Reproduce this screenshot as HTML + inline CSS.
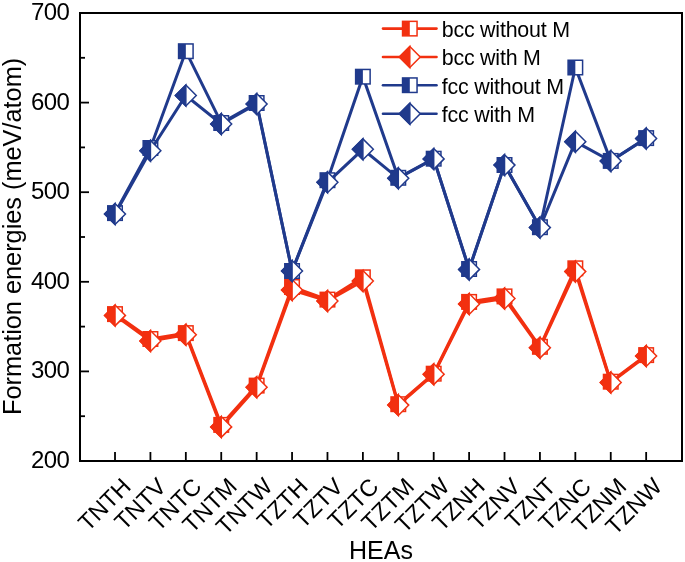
<!DOCTYPE html>
<html><head><meta charset="utf-8"><style>
html,body{margin:0;padding:0;background:#fff;}
svg{display:block;font-family:"Liberation Sans",sans-serif;will-change:transform;}
</style></head><body>
<svg width="685" height="562" viewBox="0 0 685 562">
<rect width="685" height="562" fill="#fff"/>
<rect x="80" y="13" width="602" height="448" fill="none" stroke="#000" stroke-width="2"/>
<line x1="81" y1="13.00" x2="89" y2="13.00" stroke="#000" stroke-width="1.8"/>
<line x1="81" y1="102.60" x2="89" y2="102.60" stroke="#000" stroke-width="1.8"/>
<line x1="81" y1="192.20" x2="89" y2="192.20" stroke="#000" stroke-width="1.8"/>
<line x1="81" y1="281.80" x2="89" y2="281.80" stroke="#000" stroke-width="1.8"/>
<line x1="81" y1="371.40" x2="89" y2="371.40" stroke="#000" stroke-width="1.8"/>
<line x1="81" y1="461.00" x2="89" y2="461.00" stroke="#000" stroke-width="1.8"/>
<line x1="81" y1="57.80" x2="85" y2="57.80" stroke="#000" stroke-width="1.8"/>
<line x1="81" y1="147.40" x2="85" y2="147.40" stroke="#000" stroke-width="1.8"/>
<line x1="81" y1="237.00" x2="85" y2="237.00" stroke="#000" stroke-width="1.8"/>
<line x1="81" y1="326.60" x2="85" y2="326.60" stroke="#000" stroke-width="1.8"/>
<line x1="81" y1="416.20" x2="85" y2="416.20" stroke="#000" stroke-width="1.8"/>
<line x1="115.01" y1="460" x2="115.01" y2="452" stroke="#000" stroke-width="1.8"/>
<line x1="150.42" y1="460" x2="150.42" y2="452" stroke="#000" stroke-width="1.8"/>
<line x1="185.83" y1="460" x2="185.83" y2="452" stroke="#000" stroke-width="1.8"/>
<line x1="221.24" y1="460" x2="221.24" y2="452" stroke="#000" stroke-width="1.8"/>
<line x1="256.65" y1="460" x2="256.65" y2="452" stroke="#000" stroke-width="1.8"/>
<line x1="292.06" y1="460" x2="292.06" y2="452" stroke="#000" stroke-width="1.8"/>
<line x1="327.47" y1="460" x2="327.47" y2="452" stroke="#000" stroke-width="1.8"/>
<line x1="362.88" y1="460" x2="362.88" y2="452" stroke="#000" stroke-width="1.8"/>
<line x1="398.29" y1="460" x2="398.29" y2="452" stroke="#000" stroke-width="1.8"/>
<line x1="433.70" y1="460" x2="433.70" y2="452" stroke="#000" stroke-width="1.8"/>
<line x1="469.11" y1="460" x2="469.11" y2="452" stroke="#000" stroke-width="1.8"/>
<line x1="504.52" y1="460" x2="504.52" y2="452" stroke="#000" stroke-width="1.8"/>
<line x1="539.93" y1="460" x2="539.93" y2="452" stroke="#000" stroke-width="1.8"/>
<line x1="575.34" y1="460" x2="575.34" y2="452" stroke="#000" stroke-width="1.8"/>
<line x1="610.75" y1="460" x2="610.75" y2="452" stroke="#000" stroke-width="1.8"/>
<line x1="646.16" y1="460" x2="646.16" y2="452" stroke="#000" stroke-width="1.8"/>
<text x="69.2" y="20.00" text-anchor="end" font-size="24" letter-spacing="-0.6">700</text>
<text x="69.2" y="109.60" text-anchor="end" font-size="24" letter-spacing="-0.6">600</text>
<text x="69.2" y="199.20" text-anchor="end" font-size="24" letter-spacing="-0.6">500</text>
<text x="69.2" y="288.80" text-anchor="end" font-size="24" letter-spacing="-0.6">400</text>
<text x="69.2" y="378.40" text-anchor="end" font-size="24" letter-spacing="-0.6">300</text>
<text x="69.2" y="468.00" text-anchor="end" font-size="24" letter-spacing="-0.6">200</text>
<text transform="translate(132.21,487.9) rotate(-45)" text-anchor="end" font-size="23.5">TNTH</text>
<text transform="translate(167.62,487.9) rotate(-45)" text-anchor="end" font-size="23.5">TNTV</text>
<text transform="translate(203.03,487.9) rotate(-45)" text-anchor="end" font-size="23.5">TNTC</text>
<text transform="translate(238.44,487.9) rotate(-45)" text-anchor="end" font-size="23.5">TNTM</text>
<text transform="translate(273.85,487.9) rotate(-45)" text-anchor="end" font-size="23.5">TNTW</text>
<text transform="translate(309.26,487.9) rotate(-45)" text-anchor="end" font-size="23.5">TZTH</text>
<text transform="translate(344.67,487.9) rotate(-45)" text-anchor="end" font-size="23.5">TZTV</text>
<text transform="translate(380.08,487.9) rotate(-45)" text-anchor="end" font-size="23.5">TZTC</text>
<text transform="translate(415.49,487.9) rotate(-45)" text-anchor="end" font-size="23.5">TZTM</text>
<text transform="translate(450.90,487.9) rotate(-45)" text-anchor="end" font-size="23.5">TZTW</text>
<text transform="translate(486.31,487.9) rotate(-45)" text-anchor="end" font-size="23.5">TZNH</text>
<text transform="translate(521.72,487.9) rotate(-45)" text-anchor="end" font-size="23.5">TZNV</text>
<text transform="translate(557.13,487.9) rotate(-45)" text-anchor="end" font-size="23.5">TZNT</text>
<text transform="translate(592.54,487.9) rotate(-45)" text-anchor="end" font-size="23.5">TZNC</text>
<text transform="translate(627.95,487.9) rotate(-45)" text-anchor="end" font-size="23.5">TZNM</text>
<text transform="translate(663.36,487.9) rotate(-45)" text-anchor="end" font-size="23.5">TZNW</text>
<text transform="translate(21.2,236.4) rotate(-90)" text-anchor="middle" font-size="25.3">Formation energies (meV/atom)</text>
<text x="381" y="559" text-anchor="middle" font-size="25">HEAs</text>
<polyline points="115.01,314.10 150.42,339.00 185.83,333.10 221.24,424.90 256.65,385.60 292.06,287.00 327.47,299.60 362.88,277.30 398.29,404.20 433.70,373.70 469.11,301.90 504.52,296.40 539.93,346.80 575.34,268.30 610.75,381.70 646.16,355.10" fill="none" stroke="#f23010" stroke-width="3.0" stroke-linejoin="miter"/>
<rect x="107.76" y="306.85" width="14.50" height="14.50" fill="#fff" stroke="#f23010" stroke-width="1.5"/><rect x="107.76" y="306.85" width="7.25" height="14.50" fill="#f23010"/>
<rect x="143.17" y="331.75" width="14.50" height="14.50" fill="#fff" stroke="#f23010" stroke-width="1.5"/><rect x="143.17" y="331.75" width="7.25" height="14.50" fill="#f23010"/>
<rect x="178.58" y="325.85" width="14.50" height="14.50" fill="#fff" stroke="#f23010" stroke-width="1.5"/><rect x="178.58" y="325.85" width="7.25" height="14.50" fill="#f23010"/>
<rect x="213.99" y="417.65" width="14.50" height="14.50" fill="#fff" stroke="#f23010" stroke-width="1.5"/><rect x="213.99" y="417.65" width="7.25" height="14.50" fill="#f23010"/>
<rect x="249.40" y="378.35" width="14.50" height="14.50" fill="#fff" stroke="#f23010" stroke-width="1.5"/><rect x="249.40" y="378.35" width="7.25" height="14.50" fill="#f23010"/>
<rect x="284.81" y="279.75" width="14.50" height="14.50" fill="#fff" stroke="#f23010" stroke-width="1.5"/><rect x="284.81" y="279.75" width="7.25" height="14.50" fill="#f23010"/>
<rect x="320.22" y="292.35" width="14.50" height="14.50" fill="#fff" stroke="#f23010" stroke-width="1.5"/><rect x="320.22" y="292.35" width="7.25" height="14.50" fill="#f23010"/>
<rect x="355.63" y="270.05" width="14.50" height="14.50" fill="#fff" stroke="#f23010" stroke-width="1.5"/><rect x="355.63" y="270.05" width="7.25" height="14.50" fill="#f23010"/>
<rect x="391.04" y="396.95" width="14.50" height="14.50" fill="#fff" stroke="#f23010" stroke-width="1.5"/><rect x="391.04" y="396.95" width="7.25" height="14.50" fill="#f23010"/>
<rect x="426.45" y="366.45" width="14.50" height="14.50" fill="#fff" stroke="#f23010" stroke-width="1.5"/><rect x="426.45" y="366.45" width="7.25" height="14.50" fill="#f23010"/>
<rect x="461.86" y="294.65" width="14.50" height="14.50" fill="#fff" stroke="#f23010" stroke-width="1.5"/><rect x="461.86" y="294.65" width="7.25" height="14.50" fill="#f23010"/>
<rect x="497.27" y="289.15" width="14.50" height="14.50" fill="#fff" stroke="#f23010" stroke-width="1.5"/><rect x="497.27" y="289.15" width="7.25" height="14.50" fill="#f23010"/>
<rect x="532.68" y="339.55" width="14.50" height="14.50" fill="#fff" stroke="#f23010" stroke-width="1.5"/><rect x="532.68" y="339.55" width="7.25" height="14.50" fill="#f23010"/>
<rect x="568.09" y="261.05" width="14.50" height="14.50" fill="#fff" stroke="#f23010" stroke-width="1.5"/><rect x="568.09" y="261.05" width="7.25" height="14.50" fill="#f23010"/>
<rect x="603.50" y="374.45" width="14.50" height="14.50" fill="#fff" stroke="#f23010" stroke-width="1.5"/><rect x="603.50" y="374.45" width="7.25" height="14.50" fill="#f23010"/>
<rect x="638.91" y="347.85" width="14.50" height="14.50" fill="#fff" stroke="#f23010" stroke-width="1.5"/><rect x="638.91" y="347.85" width="7.25" height="14.50" fill="#f23010"/>
<polyline points="115.01,315.40 150.42,341.00 185.83,334.80 221.24,426.90 256.65,387.20 292.06,290.00 327.47,301.00 362.88,281.00 398.29,405.10 433.70,374.20 469.11,304.00 504.52,298.50 539.93,347.70 575.34,271.60 610.75,382.50 646.16,356.00" fill="none" stroke="#f23010" stroke-width="3.0" stroke-linejoin="miter"/>
<path d="M115.01,304.96L125.45,315.40L115.01,325.84L104.57,315.40Z" fill="#fff" stroke="#f23010" stroke-width="1.5" stroke-linejoin="miter"/><path d="M115.01,304.96L115.01,325.84L104.57,315.40Z" fill="#f23010" stroke="#f23010" stroke-width="1.5" stroke-linejoin="miter"/>
<path d="M150.42,330.56L160.86,341.00L150.42,351.44L139.98,341.00Z" fill="#fff" stroke="#f23010" stroke-width="1.5" stroke-linejoin="miter"/><path d="M150.42,330.56L150.42,351.44L139.98,341.00Z" fill="#f23010" stroke="#f23010" stroke-width="1.5" stroke-linejoin="miter"/>
<path d="M185.83,324.36L196.27,334.80L185.83,345.24L175.39,334.80Z" fill="#fff" stroke="#f23010" stroke-width="1.5" stroke-linejoin="miter"/><path d="M185.83,324.36L185.83,345.24L175.39,334.80Z" fill="#f23010" stroke="#f23010" stroke-width="1.5" stroke-linejoin="miter"/>
<path d="M221.24,416.46L231.68,426.90L221.24,437.34L210.80,426.90Z" fill="#fff" stroke="#f23010" stroke-width="1.5" stroke-linejoin="miter"/><path d="M221.24,416.46L221.24,437.34L210.80,426.90Z" fill="#f23010" stroke="#f23010" stroke-width="1.5" stroke-linejoin="miter"/>
<path d="M256.65,376.76L267.09,387.20L256.65,397.64L246.21,387.20Z" fill="#fff" stroke="#f23010" stroke-width="1.5" stroke-linejoin="miter"/><path d="M256.65,376.76L256.65,397.64L246.21,387.20Z" fill="#f23010" stroke="#f23010" stroke-width="1.5" stroke-linejoin="miter"/>
<path d="M292.06,279.56L302.50,290.00L292.06,300.44L281.62,290.00Z" fill="#fff" stroke="#f23010" stroke-width="1.5" stroke-linejoin="miter"/><path d="M292.06,279.56L292.06,300.44L281.62,290.00Z" fill="#f23010" stroke="#f23010" stroke-width="1.5" stroke-linejoin="miter"/>
<path d="M327.47,290.56L337.91,301.00L327.47,311.44L317.03,301.00Z" fill="#fff" stroke="#f23010" stroke-width="1.5" stroke-linejoin="miter"/><path d="M327.47,290.56L327.47,311.44L317.03,301.00Z" fill="#f23010" stroke="#f23010" stroke-width="1.5" stroke-linejoin="miter"/>
<path d="M362.88,270.56L373.32,281.00L362.88,291.44L352.44,281.00Z" fill="#fff" stroke="#f23010" stroke-width="1.5" stroke-linejoin="miter"/><path d="M362.88,270.56L362.88,291.44L352.44,281.00Z" fill="#f23010" stroke="#f23010" stroke-width="1.5" stroke-linejoin="miter"/>
<path d="M398.29,394.66L408.73,405.10L398.29,415.54L387.85,405.10Z" fill="#fff" stroke="#f23010" stroke-width="1.5" stroke-linejoin="miter"/><path d="M398.29,394.66L398.29,415.54L387.85,405.10Z" fill="#f23010" stroke="#f23010" stroke-width="1.5" stroke-linejoin="miter"/>
<path d="M433.70,363.76L444.14,374.20L433.70,384.64L423.26,374.20Z" fill="#fff" stroke="#f23010" stroke-width="1.5" stroke-linejoin="miter"/><path d="M433.70,363.76L433.70,384.64L423.26,374.20Z" fill="#f23010" stroke="#f23010" stroke-width="1.5" stroke-linejoin="miter"/>
<path d="M469.11,293.56L479.55,304.00L469.11,314.44L458.67,304.00Z" fill="#fff" stroke="#f23010" stroke-width="1.5" stroke-linejoin="miter"/><path d="M469.11,293.56L469.11,314.44L458.67,304.00Z" fill="#f23010" stroke="#f23010" stroke-width="1.5" stroke-linejoin="miter"/>
<path d="M504.52,288.06L514.96,298.50L504.52,308.94L494.08,298.50Z" fill="#fff" stroke="#f23010" stroke-width="1.5" stroke-linejoin="miter"/><path d="M504.52,288.06L504.52,308.94L494.08,298.50Z" fill="#f23010" stroke="#f23010" stroke-width="1.5" stroke-linejoin="miter"/>
<path d="M539.93,337.26L550.37,347.70L539.93,358.14L529.49,347.70Z" fill="#fff" stroke="#f23010" stroke-width="1.5" stroke-linejoin="miter"/><path d="M539.93,337.26L539.93,358.14L529.49,347.70Z" fill="#f23010" stroke="#f23010" stroke-width="1.5" stroke-linejoin="miter"/>
<path d="M575.34,261.16L585.78,271.60L575.34,282.04L564.90,271.60Z" fill="#fff" stroke="#f23010" stroke-width="1.5" stroke-linejoin="miter"/><path d="M575.34,261.16L575.34,282.04L564.90,271.60Z" fill="#f23010" stroke="#f23010" stroke-width="1.5" stroke-linejoin="miter"/>
<path d="M610.75,372.06L621.19,382.50L610.75,392.94L600.31,382.50Z" fill="#fff" stroke="#f23010" stroke-width="1.5" stroke-linejoin="miter"/><path d="M610.75,372.06L610.75,392.94L600.31,382.50Z" fill="#f23010" stroke="#f23010" stroke-width="1.5" stroke-linejoin="miter"/>
<path d="M646.16,345.56L656.60,356.00L646.16,366.44L635.72,356.00Z" fill="#fff" stroke="#f23010" stroke-width="1.5" stroke-linejoin="miter"/><path d="M646.16,345.56L646.16,366.44L635.72,356.00Z" fill="#f23010" stroke="#f23010" stroke-width="1.5" stroke-linejoin="miter"/>
<polyline points="115.01,213.10 150.42,148.00 185.83,51.20 221.24,123.00 256.65,103.00 292.06,271.00 327.47,180.20 362.88,76.70 398.29,177.80 433.70,158.70 469.11,269.00 504.52,165.00 539.93,227.20 575.34,67.50 610.75,160.90 646.16,138.10" fill="none" stroke="#203a8c" stroke-width="3.0" stroke-linejoin="miter"/>
<rect x="107.76" y="205.85" width="14.50" height="14.50" fill="#fff" stroke="#203a8c" stroke-width="1.5"/><rect x="107.76" y="205.85" width="7.25" height="14.50" fill="#203a8c"/>
<rect x="143.17" y="140.75" width="14.50" height="14.50" fill="#fff" stroke="#203a8c" stroke-width="1.5"/><rect x="143.17" y="140.75" width="7.25" height="14.50" fill="#203a8c"/>
<rect x="178.58" y="43.95" width="14.50" height="14.50" fill="#fff" stroke="#203a8c" stroke-width="1.5"/><rect x="178.58" y="43.95" width="7.25" height="14.50" fill="#203a8c"/>
<rect x="213.99" y="115.75" width="14.50" height="14.50" fill="#fff" stroke="#203a8c" stroke-width="1.5"/><rect x="213.99" y="115.75" width="7.25" height="14.50" fill="#203a8c"/>
<rect x="249.40" y="95.75" width="14.50" height="14.50" fill="#fff" stroke="#203a8c" stroke-width="1.5"/><rect x="249.40" y="95.75" width="7.25" height="14.50" fill="#203a8c"/>
<rect x="284.81" y="263.75" width="14.50" height="14.50" fill="#fff" stroke="#203a8c" stroke-width="1.5"/><rect x="284.81" y="263.75" width="7.25" height="14.50" fill="#203a8c"/>
<rect x="320.22" y="172.95" width="14.50" height="14.50" fill="#fff" stroke="#203a8c" stroke-width="1.5"/><rect x="320.22" y="172.95" width="7.25" height="14.50" fill="#203a8c"/>
<rect x="355.63" y="69.45" width="14.50" height="14.50" fill="#fff" stroke="#203a8c" stroke-width="1.5"/><rect x="355.63" y="69.45" width="7.25" height="14.50" fill="#203a8c"/>
<rect x="391.04" y="170.55" width="14.50" height="14.50" fill="#fff" stroke="#203a8c" stroke-width="1.5"/><rect x="391.04" y="170.55" width="7.25" height="14.50" fill="#203a8c"/>
<rect x="426.45" y="151.45" width="14.50" height="14.50" fill="#fff" stroke="#203a8c" stroke-width="1.5"/><rect x="426.45" y="151.45" width="7.25" height="14.50" fill="#203a8c"/>
<rect x="461.86" y="261.75" width="14.50" height="14.50" fill="#fff" stroke="#203a8c" stroke-width="1.5"/><rect x="461.86" y="261.75" width="7.25" height="14.50" fill="#203a8c"/>
<rect x="497.27" y="157.75" width="14.50" height="14.50" fill="#fff" stroke="#203a8c" stroke-width="1.5"/><rect x="497.27" y="157.75" width="7.25" height="14.50" fill="#203a8c"/>
<rect x="532.68" y="219.95" width="14.50" height="14.50" fill="#fff" stroke="#203a8c" stroke-width="1.5"/><rect x="532.68" y="219.95" width="7.25" height="14.50" fill="#203a8c"/>
<rect x="568.09" y="60.25" width="14.50" height="14.50" fill="#fff" stroke="#203a8c" stroke-width="1.5"/><rect x="568.09" y="60.25" width="7.25" height="14.50" fill="#203a8c"/>
<rect x="603.50" y="153.65" width="14.50" height="14.50" fill="#fff" stroke="#203a8c" stroke-width="1.5"/><rect x="603.50" y="153.65" width="7.25" height="14.50" fill="#203a8c"/>
<rect x="638.91" y="130.85" width="14.50" height="14.50" fill="#fff" stroke="#203a8c" stroke-width="1.5"/><rect x="638.91" y="130.85" width="7.25" height="14.50" fill="#203a8c"/>
<polyline points="115.01,214.00 150.42,150.80 185.83,95.50 221.24,124.00 256.65,104.00 292.06,271.00 327.47,182.30 362.88,149.30 398.29,178.30 433.70,158.90 469.11,269.40 504.52,165.10 539.93,227.60 575.34,141.70 610.75,161.00 646.16,138.50" fill="none" stroke="#203a8c" stroke-width="3.0" stroke-linejoin="miter"/>
<path d="M115.01,203.56L125.45,214.00L115.01,224.44L104.57,214.00Z" fill="#fff" stroke="#203a8c" stroke-width="1.5" stroke-linejoin="miter"/><path d="M115.01,203.56L115.01,224.44L104.57,214.00Z" fill="#203a8c" stroke="#203a8c" stroke-width="1.5" stroke-linejoin="miter"/>
<path d="M150.42,140.36L160.86,150.80L150.42,161.24L139.98,150.80Z" fill="#fff" stroke="#203a8c" stroke-width="1.5" stroke-linejoin="miter"/><path d="M150.42,140.36L150.42,161.24L139.98,150.80Z" fill="#203a8c" stroke="#203a8c" stroke-width="1.5" stroke-linejoin="miter"/>
<path d="M185.83,85.06L196.27,95.50L185.83,105.94L175.39,95.50Z" fill="#fff" stroke="#203a8c" stroke-width="1.5" stroke-linejoin="miter"/><path d="M185.83,85.06L185.83,105.94L175.39,95.50Z" fill="#203a8c" stroke="#203a8c" stroke-width="1.5" stroke-linejoin="miter"/>
<path d="M221.24,113.56L231.68,124.00L221.24,134.44L210.80,124.00Z" fill="#fff" stroke="#203a8c" stroke-width="1.5" stroke-linejoin="miter"/><path d="M221.24,113.56L221.24,134.44L210.80,124.00Z" fill="#203a8c" stroke="#203a8c" stroke-width="1.5" stroke-linejoin="miter"/>
<path d="M256.65,93.56L267.09,104.00L256.65,114.44L246.21,104.00Z" fill="#fff" stroke="#203a8c" stroke-width="1.5" stroke-linejoin="miter"/><path d="M256.65,93.56L256.65,114.44L246.21,104.00Z" fill="#203a8c" stroke="#203a8c" stroke-width="1.5" stroke-linejoin="miter"/>
<path d="M292.06,260.56L302.50,271.00L292.06,281.44L281.62,271.00Z" fill="#fff" stroke="#203a8c" stroke-width="1.5" stroke-linejoin="miter"/><path d="M292.06,260.56L292.06,281.44L281.62,271.00Z" fill="#203a8c" stroke="#203a8c" stroke-width="1.5" stroke-linejoin="miter"/>
<path d="M327.47,171.86L337.91,182.30L327.47,192.74L317.03,182.30Z" fill="#fff" stroke="#203a8c" stroke-width="1.5" stroke-linejoin="miter"/><path d="M327.47,171.86L327.47,192.74L317.03,182.30Z" fill="#203a8c" stroke="#203a8c" stroke-width="1.5" stroke-linejoin="miter"/>
<path d="M362.88,138.86L373.32,149.30L362.88,159.74L352.44,149.30Z" fill="#fff" stroke="#203a8c" stroke-width="1.5" stroke-linejoin="miter"/><path d="M362.88,138.86L362.88,159.74L352.44,149.30Z" fill="#203a8c" stroke="#203a8c" stroke-width="1.5" stroke-linejoin="miter"/>
<path d="M398.29,167.86L408.73,178.30L398.29,188.74L387.85,178.30Z" fill="#fff" stroke="#203a8c" stroke-width="1.5" stroke-linejoin="miter"/><path d="M398.29,167.86L398.29,188.74L387.85,178.30Z" fill="#203a8c" stroke="#203a8c" stroke-width="1.5" stroke-linejoin="miter"/>
<path d="M433.70,148.46L444.14,158.90L433.70,169.34L423.26,158.90Z" fill="#fff" stroke="#203a8c" stroke-width="1.5" stroke-linejoin="miter"/><path d="M433.70,148.46L433.70,169.34L423.26,158.90Z" fill="#203a8c" stroke="#203a8c" stroke-width="1.5" stroke-linejoin="miter"/>
<path d="M469.11,258.96L479.55,269.40L469.11,279.84L458.67,269.40Z" fill="#fff" stroke="#203a8c" stroke-width="1.5" stroke-linejoin="miter"/><path d="M469.11,258.96L469.11,279.84L458.67,269.40Z" fill="#203a8c" stroke="#203a8c" stroke-width="1.5" stroke-linejoin="miter"/>
<path d="M504.52,154.66L514.96,165.10L504.52,175.54L494.08,165.10Z" fill="#fff" stroke="#203a8c" stroke-width="1.5" stroke-linejoin="miter"/><path d="M504.52,154.66L504.52,175.54L494.08,165.10Z" fill="#203a8c" stroke="#203a8c" stroke-width="1.5" stroke-linejoin="miter"/>
<path d="M539.93,217.16L550.37,227.60L539.93,238.04L529.49,227.60Z" fill="#fff" stroke="#203a8c" stroke-width="1.5" stroke-linejoin="miter"/><path d="M539.93,217.16L539.93,238.04L529.49,227.60Z" fill="#203a8c" stroke="#203a8c" stroke-width="1.5" stroke-linejoin="miter"/>
<path d="M575.34,131.26L585.78,141.70L575.34,152.14L564.90,141.70Z" fill="#fff" stroke="#203a8c" stroke-width="1.5" stroke-linejoin="miter"/><path d="M575.34,131.26L575.34,152.14L564.90,141.70Z" fill="#203a8c" stroke="#203a8c" stroke-width="1.5" stroke-linejoin="miter"/>
<path d="M610.75,150.56L621.19,161.00L610.75,171.44L600.31,161.00Z" fill="#fff" stroke="#203a8c" stroke-width="1.5" stroke-linejoin="miter"/><path d="M610.75,150.56L610.75,171.44L600.31,161.00Z" fill="#203a8c" stroke="#203a8c" stroke-width="1.5" stroke-linejoin="miter"/>
<path d="M646.16,128.06L656.60,138.50L646.16,148.94L635.72,138.50Z" fill="#fff" stroke="#203a8c" stroke-width="1.5" stroke-linejoin="miter"/><path d="M646.16,128.06L646.16,148.94L635.72,138.50Z" fill="#203a8c" stroke="#203a8c" stroke-width="1.5" stroke-linejoin="miter"/>
<line x1="383" y1="28.6" x2="436.5" y2="28.6" stroke="#f23010" stroke-width="2.6" stroke-linecap="round"/>
<rect x="402.55" y="21.35" width="14.50" height="14.50" fill="#fff" stroke="#f23010" stroke-width="1.5"/><rect x="402.55" y="21.35" width="7.25" height="14.50" fill="#f23010"/>
<text x="441.7" y="36.80" font-size="21.4" letter-spacing="-0.2">bcc without M</text>
<line x1="383" y1="57.0" x2="436.5" y2="57.0" stroke="#f23010" stroke-width="2.6" stroke-linecap="round"/>
<path d="M409.80,46.56L420.24,57.00L409.80,67.44L399.36,57.00Z" fill="#fff" stroke="#f23010" stroke-width="1.5" stroke-linejoin="miter"/><path d="M409.80,46.56L409.80,67.44L399.36,57.00Z" fill="#f23010" stroke="#f23010" stroke-width="1.5" stroke-linejoin="miter"/>
<text x="441.7" y="65.20" font-size="21.4" letter-spacing="-0.2">bcc with M</text>
<line x1="383" y1="85.2" x2="436.5" y2="85.2" stroke="#203a8c" stroke-width="2.6" stroke-linecap="round"/>
<rect x="402.55" y="77.95" width="14.50" height="14.50" fill="#fff" stroke="#203a8c" stroke-width="1.5"/><rect x="402.55" y="77.95" width="7.25" height="14.50" fill="#203a8c"/>
<text x="441.7" y="93.80" font-size="21.4" letter-spacing="-0.2">fcc without M</text>
<line x1="383" y1="113.8" x2="436.5" y2="113.8" stroke="#203a8c" stroke-width="2.6" stroke-linecap="round"/>
<path d="M409.80,103.36L420.24,113.80L409.80,124.24L399.36,113.80Z" fill="#fff" stroke="#203a8c" stroke-width="1.5" stroke-linejoin="miter"/><path d="M409.80,103.36L409.80,124.24L399.36,113.80Z" fill="#203a8c" stroke="#203a8c" stroke-width="1.5" stroke-linejoin="miter"/>
<text x="441.7" y="121.70" font-size="21.4" letter-spacing="-0.2">fcc with M</text>
</svg>
</body></html>
